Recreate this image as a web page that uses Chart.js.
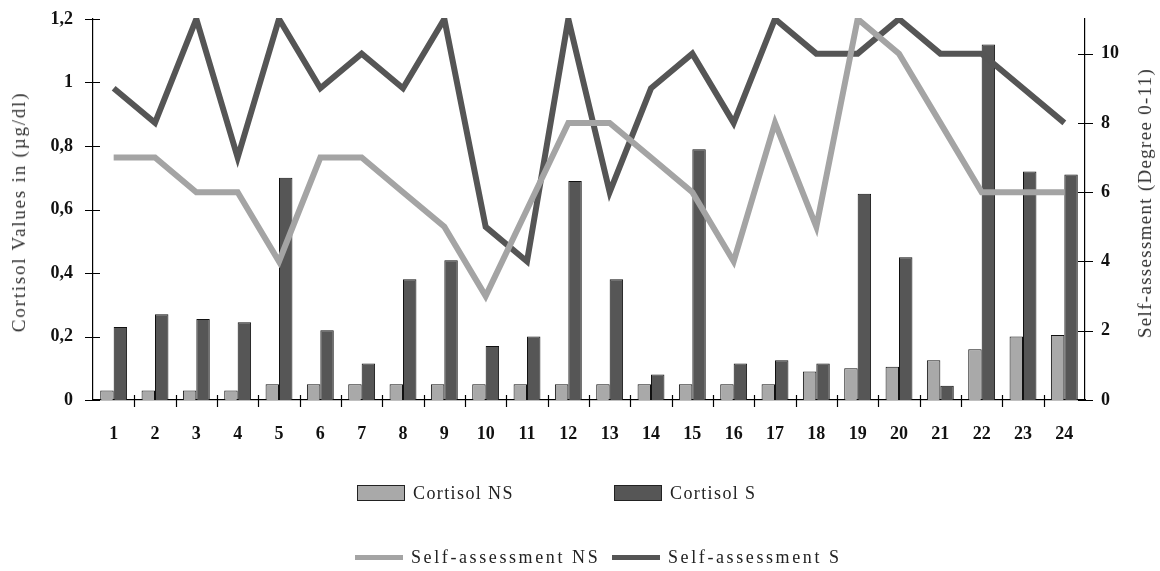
<!DOCTYPE html>
<html>
<head>
<meta charset="utf-8">
<title>Cortisol and self-assessment</title>
<script src="https://cdn.jsdelivr.net/npm/chart.js@4.4.1/dist/chart.umd.min.js"></script>
<style>
  html, body { margin: 0; padding: 0; background: #fff; }
  #wrap {
    position: relative;
    width: 1160px;
    height: 571px;
    font-family: "Liberation Serif", "Times New Roman", serif;
    color: #222;
  }
  #chart { position: absolute; left: 0; top: 0; }
  .axis-title {
    position: absolute;
    font-size: 19px;
    color: #333;
    white-space: nowrap;
    transform: translate(-50%, -50%) rotate(-90deg);
  }
  .legend-item {
    position: absolute;
    font-size: 18px;
    white-space: nowrap;
    line-height: 20px;
  }
  .swatch-box {
    position: absolute;
    width: 46px;
    height: 14px;
    border: 1px solid #222;
  }
  .swatch-line {
    position: absolute;
    width: 48px;
    height: 5px;
  }
</style>
</head>
<body>
<div id="wrap">
  <canvas id="chart" width="1160" height="571"></canvas>
  <div class="axis-title" style="left:19px; top:212px; letter-spacing:1.8px;">Cortisol Values in (µg/dl)</div>
  <div class="axis-title" style="left:1145px; top:203px; letter-spacing:1.3px;">Self-assessment (Degree 0-11)</div>
  <div id="legend"></div>
</div>

<script>
// ===============================
// Data
// ===============================
const subjects = ["1", "2", "3", "4", "5", "6", "7", "8", "9", "10", "11", "12",
                  "13", "14", "15", "16", "17", "18", "19", "20", "21", "22", "23", "24"];

// cortisol in µg/dl (left axis)
const cortisolNS = [0.03, 0.03, 0.03, 0.03, 0.05, 0.05, 0.05, 0.05, 0.05, 0.05, 0.05, 0.05,
                    0.05, 0.05, 0.05, 0.05, 0.05, 0.09, 0.10, 0.105, 0.125, 0.16, 0.20, 0.205];
const cortisolS = [0.23, 0.27, 0.255, 0.245, 0.70, 0.22, 0.115, 0.38, 0.44, 0.17, 0.20, 0.69,
                   0.38, 0.08, 0.79, 0.115, 0.125, 0.115, 0.65, 0.45, 0.045, 1.12, 0.72, 0.71];

// self-assessment, degree 0-11 (right axis)
const selfNS = [7, 7, 6, 6, 4, 7, 7, 6, 5, 3, 5.5, 8, 8, 7, 6, 4, 8, 5, 11, 10, 8, 6, 6, 6];
const selfS = [9, 8, 11, 7, 11, 9, 10, 9, 11, 5, 4, 11, 6, 9, 10, 8, 11, 10, 10, 11, 10, 10, 9, 8];

// tick labels
const leftTicks = [0, 0.2, 0.4, 0.6, 0.8, 1, 1.2];
const rightTicks = [0, 2, 4, 6, 8, 10];

// colours
const LIGHT_BAR = "#a9a9a9";
const DARK_BAR = "#565656";
const LIGHT_LINE = "#a4a4a4";
const DARK_LINE = "#555555";

const FONT_FAMILY = '"Liberation Serif", "Times New Roman", serif';

// -------------------------------
// Tick marks that cross the axis lines
// -------------------------------
const crossTicks = {
  id: "crossTicks",
  afterDraw(chart) {
    const { ctx, chartArea, scales } = chart;
    ctx.save();
    ctx.strokeStyle = "#000";
    ctx.lineWidth = 1.2;
    ctx.beginPath();

    leftTicks.forEach(v => {
      const y = Math.round(scales.y.getPixelForValue(v)) + 0.5;
      ctx.moveTo(chartArea.left - 8, y);
      ctx.lineTo(chartArea.left + 7, y);
    });

    rightTicks.forEach(v => {
      const y = Math.round(scales.y2.getPixelForValue(v)) + 0.5;
      ctx.moveTo(chartArea.right - 7, y);
      ctx.lineTo(chartArea.right + 8, y);
    });

    for (let i = 1; i < subjects.length; i++) {
      const x = Math.round((scales.x.getPixelForValue(i - 1) + scales.x.getPixelForValue(i)) / 2) + 0.5;
      ctx.moveTo(x, chartArea.bottom - 5);
      ctx.lineTo(x, chartArea.bottom + 7);
    }
    ctx.stroke();
    ctx.restore();
  }
};

const tickFont = { family: FONT_FAMILY, size: 18, weight: "bold" };

// fixed axis box sizes so the plot area sits where it does in the original
const fitVertical = width => scale => {
  scale.width = width;
  scale.paddingTop = 0;
  scale.paddingBottom = 0;
};

// peaks at 11 get cut flat at the top of the plot, like the original
const lineClip = { left: 6, right: 6, top: 1, bottom: 6 };

new Chart(document.getElementById("chart"), {
  type: "bar",
  data: {
    labels: subjects,
    datasets: [
      {
        label: "Cortisol NS",
        data: cortisolNS,
        backgroundColor: LIGHT_BAR,
        borderColor: "#111",
        borderWidth: 1,
        yAxisID: "y",
        categoryPercentage: 0.65,
        barPercentage: 1.0,
        order: 2
      },
      {
        label: "Cortisol S",
        data: cortisolS,
        backgroundColor: DARK_BAR,
        borderColor: "#111",
        borderWidth: 1,
        yAxisID: "y",
        categoryPercentage: 0.65,
        barPercentage: 1.0,
        order: 2
      },
      {
        type: "line",
        label: "Self-assessment NS",
        data: selfNS,
        borderColor: LIGHT_LINE,
        borderWidth: 6,
        pointRadius: 0,
        tension: 0,
        borderJoinStyle: "miter",
        yAxisID: "y2",
        clip: lineClip,
        order: 1
      },
      {
        type: "line",
        label: "Self-assessment S",
        data: selfS,
        borderColor: DARK_LINE,
        borderWidth: 6,
        pointRadius: 0,
        tension: 0,
        borderJoinStyle: "miter",
        yAxisID: "y2",
        clip: lineClip,
        order: 1
      }
    ]
  },
  options: {
    responsive: false,
    animation: false,
    layout: { padding: { top: 19, left: 0, right: 0, bottom: 0 } },
    plugins: {
      legend: { display: false },
      tooltip: { enabled: false }
    },
    scales: {
      x: {
        offset: true,
        grid: { display: false },
        border: { display: true, color: "#000", width: 1.2 },
        ticks: { font: tickFont, color: "#111", padding: 16, maxRotation: 0 },
        afterFit: scale => { scale.height = 171; }
      },
      y: {
        position: "left",
        min: 0,
        max: 1.2,
        grid: { display: false, drawTicks: false },
        border: { display: true, color: "#000", width: 1.2 },
        ticks: {
          font: tickFont,
          color: "#111",
          padding: 20,
          callback: v => String(Math.round(v * 10) / 10).replace(".", ",")
        },
        afterBuildTicks: scale => { scale.ticks = leftTicks.map(v => ({ value: v })); },
        afterFit: fitVertical(93)
      },
      y2: {
        position: "right",
        min: 0,
        max: 11,
        grid: { display: false, drawTicks: false },
        border: { display: true, color: "#000", width: 1.2 },
        ticks: { font: tickFont, color: "#111", padding: 16 },
        afterBuildTicks: scale => { scale.ticks = rightTicks.map(v => ({ value: v })); },
        afterFit: fitVertical(75)
      }
    }
  },
  plugins: [crossTicks]
});

// -------------------------------
// Two-row legend below the plot
// -------------------------------
const legendEl = document.getElementById("legend");
const legendItems = [
  { text: "Cortisol NS", kind: "box", color: LIGHT_BAR, x: 357, y: 485, spacing: 1.4 },
  { text: "Cortisol S", kind: "box", color: DARK_BAR, x: 614, y: 485, spacing: 1.4 },
  { text: "Self-assessment NS", kind: "line", color: LIGHT_LINE, x: 355, y: 555, spacing: 2.6 },
  { text: "Self-assessment S", kind: "line", color: DARK_LINE, x: 612, y: 555, spacing: 2.6 }
];

legendItems.forEach(item => {
  const sw = document.createElement("div");
  sw.className = item.kind === "box" ? "swatch-box" : "swatch-line";
  sw.style.left = item.x + "px";
  sw.style.top = item.y + "px";
  sw.style.background = item.color;
  legendEl.appendChild(sw);

  const label = document.createElement("div");
  label.className = "legend-item";
  label.textContent = item.text;
  label.style.letterSpacing = item.spacing + "px";
  label.style.left = (item.x + 56) + "px";
  label.style.top = (item.kind === "box" ? item.y - 2 : item.y - 8) + "px";
  legendEl.appendChild(label);
});
</script>
</body>
</html>
